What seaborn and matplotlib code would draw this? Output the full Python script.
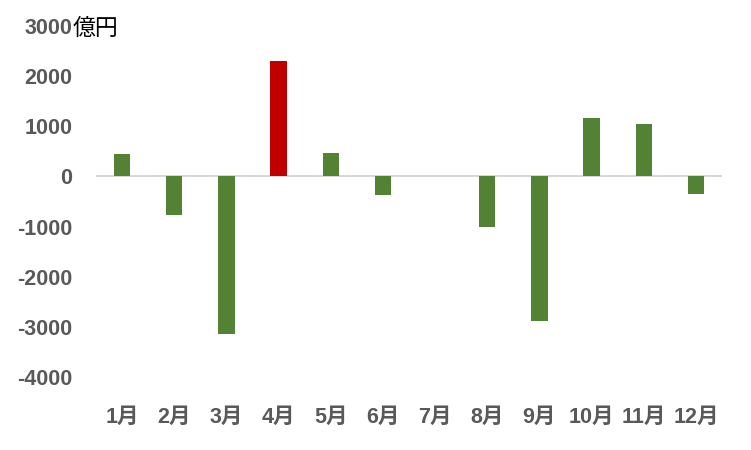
import matplotlib
matplotlib.use("Agg")
import matplotlib.pyplot as plt
import seaborn as sns
import pandas as pd

months = ["1月", "2月", "3月", "4月", "5月", "6月", "7月", "8月", "9月", "10月", "11月", "12月"]
values = [440, -770, -3150, 2300, 460, -370, 0, -1000, -2880, 1160, 1040, -350]
highlight = "4月"
green = "#548235"
red = "#C00000"
yticks = [3000, 2000, 1000, 0, -1000, -2000, -3000, -4000]
unit = "億円"

sns.set_style("white")
plt.rcParams["font.family"] = ["Liberation Sans", "Noto Sans CJK JP", "DejaVu Sans"]

df = pd.DataFrame({"month": months, "value": values})
palette = {m: (red if m == highlight else green) for m in months}

fig = plt.figure(figsize=(7.51, 4.5), dpi=100)
ax = fig.add_axes([96 / 751, 73 / 450, 626 / 751, 351 / 450])
sns.barplot(data=df, x="month", y="value", hue="month", palette=palette,
            legend=False, width=0.31, ax=ax, saturation=1, linewidth=0)

ax.set_ylim(-4000, 3000)
ax.set_xlim(-0.5, len(months) - 0.5)
ax.axhline(0, color="#D9D9D9", lw=1.5, zorder=0)
for s in ax.spines.values():
    s.set_visible(False)
ax.set_xlabel("")
ax.set_ylabel("")
ax.set_yticks(yticks)
ax.set_yticklabels([str(v) for v in yticks], fontsize=15.5, fontweight="bold", color="#595959")
ax.tick_params(axis="y", length=0, pad=17)
ax.tick_params(axis="x", length=0, pad=0)
ax.set_xticks(range(len(months)))
ax.set_xticklabels(months, fontsize=15.5, fontweight="bold", color="#595959")
for lbl in ax.get_xticklabels():
    lbl.set_y(-0.114)
    lbl.set_verticalalignment("center")

ax.text(73 / 751, (450 - 28) / 450, unit, transform=fig.transFigure, ha="left", va="center",
        fontsize=16.5, color="black", family=["Noto Sans CJK JP"])

fig.savefig("out.png", dpi=100)
